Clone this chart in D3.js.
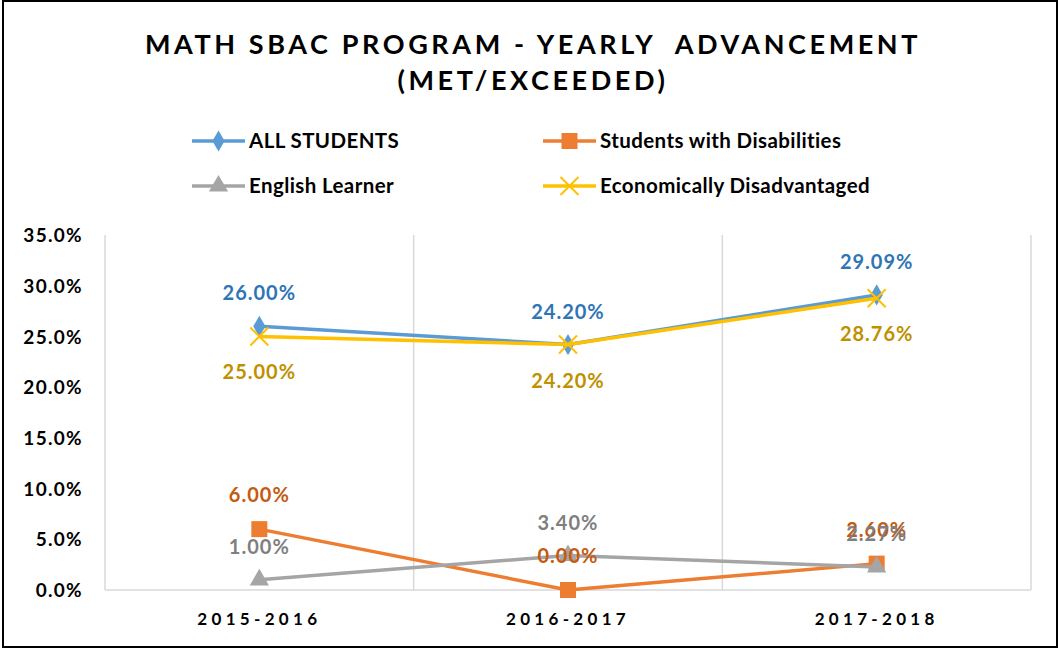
<!DOCTYPE html>
<html>
<head>
<meta charset="utf-8">
<script src="https://cdn.jsdelivr.net/npm/d3@7"></script>
<style>
  body { margin: 0; background: #fff; }
  svg { display: block; font-family: Lato, "Open Sans", sans-serif; }
</style>
</head>
<body>
<svg id="chart" width="1060" height="649"></svg>
<script>
const categories = ["2015-2016", "2016-2017", "2017-2018"];
const seriesNames = ["ALL STUDENTS", "Students with Disabilities", "English Learner", "Economically Disadvantaged"];
const allStudents = [26.00, 24.20, 29.09];
const disabilities = [6.00, 0.00, 2.60];
const englishLearner = [1.00, 3.40, 2.27];
const econDisadv = [25.00, 24.20, 28.76];
const yTicks = [0, 5, 10, 15, 20, 25, 30, 35];

(function () {
const series = [
  { name: seriesNames[0], values: allStudents, color: "#5B9BD5", text: "#2E75B6", marker: d3.symbolDiamond, size: 130, labelDy: -33 },
  { name: seriesNames[1], values: disabilities, color: "#ED7D31", text: "#C55A11", marker: d3.symbolSquare, size: 256, labelDy: -34 },
  { name: seriesNames[2], values: englishLearner, color: "#A5A5A5", text: "#7F7F7F", marker: d3.symbolTriangle, size: 160, labelDy: -33 },
  { name: seriesNames[3], values: econDisadv, color: "#FFC000", text: "#BF9000", marker: "x", size: 9, labelDy: 36 }
];

const svg = d3.select("#chart");
svg.append("rect").attr("x", 3).attr("y", 1).attr("width", 1054).attr("height", 646)
  .attr("fill", "#fff").attr("stroke", "#000").attr("stroke-width", 2);

// Title
const title = svg.append("text").attr("text-anchor", "middle").attr("font-weight", 700)
  .attr("font-size", 27).attr("letter-spacing", 3.6).attr("fill", "#000").style("white-space", "pre");
title.append("tspan").attr("x", 533).attr("y", 54).text("MATH SBAC PROGRAM - YEARLY  ADVANCEMENT");
title.append("tspan").attr("x", 533).attr("y", 90).text("(MET/EXCEEDED)");

const pLeft = 105, pRight = 1031, pTop = 235, pBottom = 590;
const x = d3.scaleBand().domain(categories).range([pLeft, pRight]);
const y = d3.scaleLinear().domain([0, 35]).range([pBottom, pTop]);

// plot area frame & gridlines
const grid = svg.append("g").attr("stroke", "#D9D9D9").attr("stroke-width", 1.5).attr("fill", "none");
grid.append("line").attr("x1", pLeft).attr("x2", pLeft).attr("y1", pTop).attr("y2", pBottom);
grid.append("line").attr("x1", pRight).attr("x2", pRight).attr("y1", pTop).attr("y2", pBottom);
categories.slice(1).forEach(c => {
  grid.append("line").attr("x1", x(c)).attr("x2", x(c)).attr("y1", pTop).attr("y2", pBottom);
});
grid.append("line").attr("x1", pLeft).attr("x2", pRight).attr("y1", y(0)).attr("y2", y(0));

// Y axis
const yAxis = d3.axisLeft(y).tickValues(yTicks).tickSize(0).tickPadding(0)
  .tickFormat(d => d3.format(".1f")(d) + "%");
const yg = svg.append("g").attr("transform", `translate(83,0)`).call(yAxis);
yg.select(".domain").remove();
yg.selectAll("text").attr("font-size", 19).attr("font-weight", 700).attr("fill", "#000")
  .attr("letter-spacing", 1.3).attr("font-family", "Lato, sans-serif").attr("dy", "0.35em");

// X axis
const xAxis = d3.axisBottom(x).tickSize(0).tickPadding(0);
const xg = svg.append("g").attr("transform", `translate(0,${pBottom + 29})`).call(xAxis);
xg.select(".domain").remove();
xg.selectAll("text").attr("font-size", 17).attr("font-weight", 700).attr("fill", "#000")
  .attr("letter-spacing", 4.3).attr("font-family", "Lato, sans-serif").attr("dy", "0.35em");

const cx = c => x(c) + x.bandwidth() / 2;
const line = d3.line().x((d, i) => cx(categories[i])).y(d => y(d));

function drawMarker(g, s, px, py) {
  if (s.marker === "x") {
    const r = s.size;
    g.append("path").attr("d", `M${px - r},${py - r}L${px + r},${py + r}M${px - r},${py + r}L${px + r},${py - r}`)
      .attr("stroke", s.color).attr("stroke-width", 2).attr("fill", "none");
  } else {
    const sym = d3.symbol().type(s.marker).size(s.size);
    g.append("path").attr("d", sym()).attr("transform", `translate(${px},${py})`).attr("fill", s.color);
  }
}

series.forEach(s => {
  const g = svg.append("g");
  g.append("path").datum(s.values).attr("d", line).attr("fill", "none")
    .attr("stroke", s.color).attr("stroke-width", 3.5).attr("stroke-linejoin", "round");
  s.values.forEach((v, i) => drawMarker(g, s, cx(categories[i]), y(v)));
});

// labels
series.forEach(s => {
  s.values.forEach((v, i) => {
    svg.append("text").attr("x", cx(categories[i])).attr("y", y(v) + s.labelDy)
      .attr("dy", "0.35em").attr("text-anchor", "middle").attr("font-size", 20)
      .attr("letter-spacing", 1).attr("font-weight", 700).attr("fill", s.text)
      .text(d3.format(".2f")(v) + "%");
  });
});

// Legend
const legendPos = [[192, 141], [543, 141], [192, 186], [543, 186]];
series.forEach((s, i) => {
  const [lx, ly] = legendPos[i];
  const g = svg.append("g");
  g.append("line").attr("x1", lx).attr("x2", lx + 53).attr("y1", ly).attr("y2", ly)
    .attr("stroke", s.color).attr("stroke-width", 3.5);
  drawMarker(g, s, lx + 26.5, ly);
  g.append("text").attr("x", lx + 57).attr("y", ly).attr("dy", "0.35em")
    .attr("font-size", 20.5).attr("letter-spacing", 0.4).attr("font-weight", 700)
    .attr("fill", "#000").text(s.name);
});
})();
</script>
</body>
</html>
